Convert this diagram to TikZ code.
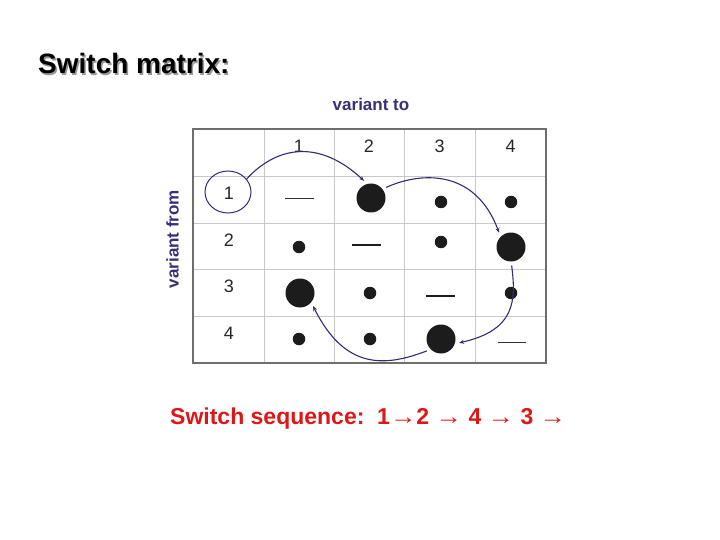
\documentclass[tikz,border=0pt]{standalone}
\usepackage{fontspec}
\usepackage{graphicx}
\setmainfont{Liberation Sans}
\usetikzlibrary{arrows.meta,shapes.geometric}
\definecolor{arrc}{RGB}{55,40,120}
\definecolor{labc}{RGB}{60,45,120}
\definecolor{redc}{RGB}{222,22,22}
\definecolor{dotc}{RGB}{28,28,28}
\definecolor{gridc}{RGB}{200,200,200}
\definecolor{boxc}{RGB}{110,110,110}
\newcommand{\wra}{\scalebox{1.15}[1]{→}}
\tikzset{
  bigdot/.style={circle,fill=dotc,inner sep=0pt,minimum size=29pt,outer sep=4pt},
  smalldot/.style={circle,fill=dotc,inner sep=0pt,minimum size=12.5pt,outer sep=0pt},
  num/.style={font=\fontsize{18}{18}\selectfont,inner sep=0pt,text=black!85},
  thindash/.style={line width=1pt,draw=black!80},
  thickdash/.style={line width=1.8pt,draw=dotc},
  conn/.style={draw=arrc,line width=1.1pt,-{Stealth[length=5pt,width=4pt]}},
}
\begin{document}
\begin{tikzpicture}[x=1pt,y=-1pt]
\useasboundingbox (0,0) rectangle (720,540);
% title
\node[anchor=base west,inner sep=0pt,text=black!40,font=\fontsize{28}{28}\selectfont\bfseries] at (39.5,75.5) {Switch matrix:};
\node[anchor=base west,inner sep=0pt,font=\fontsize{28}{28}\selectfont\bfseries] (title) at (38,74) {Switch matrix:};
% axis labels
\node[anchor=base,inner sep=0pt,text=labc,font=\fontsize{17}{17}\selectfont\bfseries] (vto) at (371,111) {variant to};
\node[anchor=base,rotate=90,inner sep=0pt,text=labc,font=\fontsize{17}{17}\selectfont\bfseries] (vfrom) at (178.5,239) {variant from};
% grid
\foreach \x in {264,334,404,475} \draw[gridc,line width=0.8pt] (\x,129) -- (\x,363);
\foreach \y in {176,223,269,316} \draw[gridc,line width=0.8pt] (193,\y) -- (546,\y);
\draw[boxc,line width=1.5pt] (193,129) rectangle (546,363);
% header numbers
\node[num] (h1) at (299,146) {1};
\node[num] (h2) at (369,146) {2};
\node[num] (h3) at (439.5,146) {3};
\node[num] (h4) at (510.5,146) {4};
% row labels
\node[ellipse,draw=arrc,line width=1pt,minimum width=46pt,minimum height=42pt,inner sep=0pt] (ell) at (228,192) {};
\node[num] (r1) at (229,193) {1};
\node[num] (r2) at (229,240) {2};
\node[num] (r3) at (229,286) {3};
\node[num] (r4) at (229,333) {4};
% row 1
\draw[thindash] (285,199) -- (314,199);
\node[bigdot] (d12) at (371,198) {};
\node[smalldot] (d13) at (441,202) {};
\node[smalldot] (d14) at (511,202) {};
% row 2
\node[smalldot] (d21) at (299,247) {};
\draw[thickdash] (352,245) -- (381,245);
\node[smalldot] (d23) at (441,242) {};
\node[bigdot] (d24) at (511,247) {};
% row 3
\node[bigdot] (d31) at (300,293) {};
\node[smalldot] (d32) at (370,293) {};
\draw[thickdash] (426,296) -- (455,296);
\node[smalldot] (d34) at (511,293) {};
% row 4
\node[smalldot] (d41) at (299,339) {};
\node[smalldot] (d42) at (370,339) {};
\node[bigdot] (d43) at (441,339) {};
\draw[thindash] (498,342) -- (526,342);
% connectors
\draw[conn] (ell.35) .. controls (278,145) and (320,140) .. (d12.112);
\draw[conn] (d12.35) .. controls (420,172) and (475,168) .. (d24.130);
\draw[conn] (d24.-88) .. controls (516,300) and (516,330) .. (d43.-12);
\draw[conn] (d43.-140) .. controls (385,367) and (345,370) .. (d31.-45);
% sequence
\node[anchor=base west,inner sep=0pt,text=redc,font=\fontsize{23}{23}\selectfont\bfseries] (seq) at (170,424) {Switch sequence:\ \ 1\wra2 \wra\ 4 \wra\ 3 \wra};
\end{tikzpicture}
\end{document}
